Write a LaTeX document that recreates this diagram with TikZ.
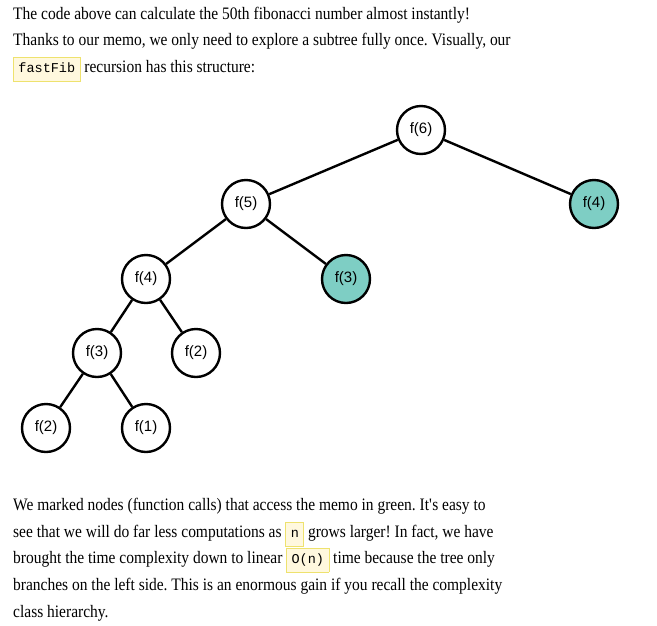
\documentclass[tikz,border=0pt]{standalone}
\usepackage{fontspec}
\setmainfont{Liberation Serif}[FakeStretch=0.885]
\setsansfont{Liberation Sans}
\setmonofont{Liberation Mono}
\usetikzlibrary{positioning}

\definecolor{memogreen}{RGB}{126,206,196}
\definecolor{codefill}{RGB}{255,248,222}
\definecolor{codeline}{RGB}{238,226,110}

\newcommand{\codebox}[1]{{\setlength{\fboxsep}{4.5pt}\setlength{\fboxrule}{0.8pt}%
	\fcolorbox{codeline}{codefill}{\fontsize{13.5}{13.5}\selectfont\ttfamily\strut #1}}}

\frenchspacing
\begin{document}
\begin{tikzpicture}[
	x=1pt, y=-1pt,
	textline/.style={anchor=base west, inner sep=0pt, font=\fontsize{17.5}{26}\selectfont},
	call/.style={draw, circle, line width=2.4pt, minimum size=48pt, inner sep=0pt, fill=white, font=\sffamily\fontsize{15}{15}\selectfont},
	memo/.style={call, fill=memogreen},
	edge/.style={line width=2.4pt}
	]
	\useasboundingbox (0,0) rectangle (657,625);
	
	% === INTRO TEXT ===
	\node[textline] (intro1) at (13,19) {The code above can calculate the 50th fibonacci number almost instantly!};
	\node[textline] (intro2) at (13,45) {Thanks to our memo, we only need to explore a subtree fully once. Visually, our};
	\node[textline] (intro3) at (13,72) {\codebox{fastFib} recursion has this structure:};
	
	% === RECURSION TREE ===
	\node[call] (call6) at (421,130) {f(6)};
	\node[call] (call5) at (246,204) {f(5)};
	\node[memo] (memo4) at (594,204) {f(4)};
	\node[call] (call4) at (146,279) {f(4)};
	\node[memo] (memo3) at (346,279) {f(3)};
	\node[call] (call3) at (97,353) {f(3)};
	\node[call] (call2r) at (196,353) {f(2)};
	\node[call] (call2) at (46,428) {f(2)};
	\node[call] (call1) at (146,428) {f(1)};
	
	\foreach \a/\b in {call6/call5, call6/memo4, call5/call4, call5/memo3,
		call4/call3, call4/call2r, call3/call2, call3/call1} {
		\draw[edge] (\a) -- (\b);
	}
	
	% === OUTRO TEXT ===
	\node[textline] (outro1) at (13,510) {We marked nodes (function calls) that access the memo in green. It\textquotesingle s easy to};
	\node[textline] (outro2) at (13,537) {see that we will do far less computations as \codebox{n} grows larger! In fact, we have};
	\node[textline] (outro3) at (13,563) {brought the time complexity down to linear \codebox{O(n)} time because the tree only};
	\node[textline] (outro4) at (13,590) {branches on the left side. This is an enormous gain if you recall the complexity};
	\node[textline] (outro5) at (13,617) {class hierarchy.};
	
\end{tikzpicture}
\end{document}
